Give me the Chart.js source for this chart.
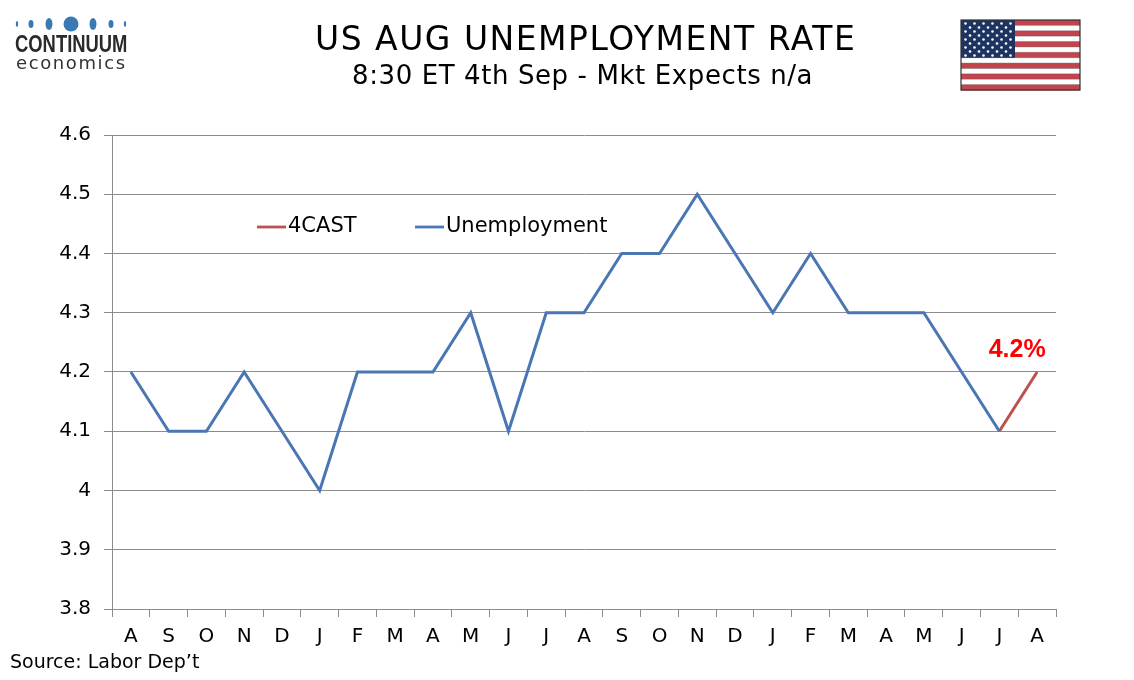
<!DOCTYPE html>
<html><head><meta charset="utf-8">
<script src="https://cdn.jsdelivr.net/npm/chart.js@4.4.1/dist/chart.umd.min.js"></script>
<style>
html,body{margin:0;padding:0;background:#fff;}
#wrap{position:relative;width:1134px;height:680px;overflow:hidden;font-family:"DejaVu Sans",Verdana,sans-serif;}
#c{position:absolute;left:0;top:0;}
.t{position:absolute;white-space:nowrap;color:#000;}
#title{left:315px;top:19px;font-size:33px;letter-spacing:1.5px;}
#sub{left:352px;top:60px;font-size:26px;letter-spacing:0.6px;}
#src{left:10px;top:650px;font-size:19px;}
#logo1{left:15px;top:31px;font-family:"Liberation Sans",Arial,sans-serif;font-weight:bold;font-size:23px;color:#2a2a2a;transform:scaleX(0.8);transform-origin:left;}
#logo2{left:16px;top:52px;font-family:"DejaVu Sans",sans-serif;font-size:18px;color:#333;letter-spacing:1.6px;}
#flag{position:absolute;left:960px;top:19px;}
#dots{position:absolute;left:10px;top:14px;}
</style></head><body>
<div id="wrap">
<canvas id="c" width="1134" height="680"></canvas>
<canvas id="dots" width="125" height="22"></canvas>
<div class="t" id="logo1">CONTINUUM</div>
<div class="t" id="logo2">economics</div>
<div class="t" id="title">US AUG UNEMPLOYMENT RATE</div>
<div class="t" id="sub">8:30 ET 4th Sep - Mkt Expects n/a</div>
<canvas id="flag" width="122" height="73"></canvas>
<div class="t" id="src">Source: Labor Dep’t</div>
</div>
<script>
const categories = ["A","S","O","N","D","J","F","M","A","M","J","J","A","S","O","N","D","J","F","M","A","M","J","J","A"];
const unemployment = [4.2,4.1,4.1,4.2,4.1,4.0,4.2,4.2,4.2,4.3,4.1,4.3,4.3,4.4,4.4,4.5,4.4,4.3,4.4,4.3,4.3,4.3,4.2,4.1,null];
const forecast = [null,null,null,null,null,null,null,null,null,null,null,null,null,null,null,null,null,null,null,null,null,null,null,4.1,4.2];
const yTicks = [3.8,3.9,4.0,4.1,4.2,4.3,4.4,4.5,4.6];
const forecastLabel = "4.2%";

const BLUE = "#4a76b4", RED = "#c0504d", GRID = "#8c8c8c";

// logo dots
(function(){
  const d = document.getElementById('dots').getContext('2d');
  d.fillStyle = "#3a79b4";
  const dots = [[7,1.2,3],[21,2.5,4],[39,3.5,6],[61,7.5,7.5],[83,3.5,6],[101,2.5,4],[115,1.2,3]];
  dots.forEach(([x,rx,ry])=>{d.beginPath();d.ellipse(x,10,rx,ry,0,0,Math.PI*2);d.fill();});
})();

// flag
(function(){
  const f = document.getElementById('flag').getContext('2d');
  const x0=1,y0=1,w=119,h=70;
  const sh = h/13;
  for(let i=0;i<13;i++){
    f.fillStyle = i%2===0 ? "#c2454e" : "#ffffff";
    f.fillRect(x0, y0+i*sh, w, sh+0.5);
  }
  f.strokeStyle="rgba(60,60,60,0.5)";f.lineWidth=0.6;
  for(let i=1;i<13;i++){f.beginPath();f.moveTo(x0,y0+i*sh);f.lineTo(x0+w,y0+i*sh);f.stroke();}
  f.fillStyle = "#1d3461";
  f.fillRect(x0,y0,54,sh*7);
  f.fillStyle="#fff";
  for(let r=0;r<9;r++){
    const n = r%2===0?6:5;
    for(let c=0;c<n;c++){
      const cx = x0 + 4.5 + c*9 + (r%2===0?0:4.5);
      const cy = y0 + 3.5 + r*4.0;
      f.beginPath();f.arc(cx,cy,1.3,0,Math.PI*2);f.fill();
    }
  }
  f.strokeStyle="#333";f.lineWidth=1.2;
  f.strokeRect(x0,y0,w,h);
})();

const overlay = {
  id:'overlay',
  afterDatasetsDraw(chart){
    const ctx = chart.ctx;
    ctx.save();
    // legend
    ctx.lineWidth = 2.8;
    ctx.font = '21px "DejaVu Sans", Verdana, sans-serif';
    ctx.textBaseline = 'middle';
    const items = [[chart.data.datasets[1].label, RED, 257],[chart.data.datasets[0].label, BLUE, 415]];
    items.forEach(([txt,col,x])=>{
      ctx.strokeStyle = col;
      ctx.beginPath();ctx.moveTo(x,227);ctx.lineTo(x+29,227);ctx.stroke();
      ctx.fillStyle = '#000';
      ctx.fillText(txt, x+31, 227);
    });
    // forecast label
    const meta = chart.getDatasetMeta(1);
    const last = meta.data[meta.data.length-1];
    ctx.font = 'bold 25px "Liberation Sans", Arial, sans-serif';
    ctx.fillStyle = '#ff0000';
    ctx.textAlign = 'center';
    ctx.textBaseline = 'alphabetic';
    ctx.fillText(forecastLabel, last.x - 20, last.y - 15);
    ctx.restore();
  }
};

new Chart(document.getElementById('c'), {
  type:'line',
  data:{
    labels: categories,
    datasets:[
      {label:'Unemployment', data: unemployment, borderColor: BLUE, borderWidth:3, pointRadius:0, tension:0, spanGaps:false},
      {label:'4CAST', data: forecast, borderColor: RED, borderWidth:3, pointRadius:0, tension:0, spanGaps:false}
    ]
  },
  options:{
    responsive:false,
    animation:false,
    devicePixelRatio:1,
    layout:{padding:{top:135,right:78,left:0,bottom:0}},
    plugins:{legend:{display:false},tooltip:{enabled:false}},
    scales:{
      x:{
        offset:true,
        grid:{display:true,offset:true,drawOnChartArea:false,drawTicks:true,tickLength:8,color:GRID},
        border:{display:true,color:GRID,width:1},
        ticks:{color:'#000',font:{family:'"DejaVu Sans", Verdana, sans-serif',size:20},padding:8,maxRotation:0,autoSkip:false},
        afterFit(s){s.height=71;}
      },
      y:{
        min:3.8,max:4.6,
        afterBuildTicks(s){s.ticks = yTicks.map(v=>({value:v}));},
        grid:{color:GRID,lineWidth:1,drawTicks:true,tickLength:8},
        border:{display:true,color:GRID,width:1},
        ticks:{color:'#000',font:{family:'"DejaVu Sans", Verdana, sans-serif',size:20},padding:13,
          callback:(v)=>{const s=(Math.round(v*10)/10).toString();return s;}},
        afterFit(s){s.width=112;}
      }
    }
  },
  plugins:[overlay]
});
</script>
</body></html>
